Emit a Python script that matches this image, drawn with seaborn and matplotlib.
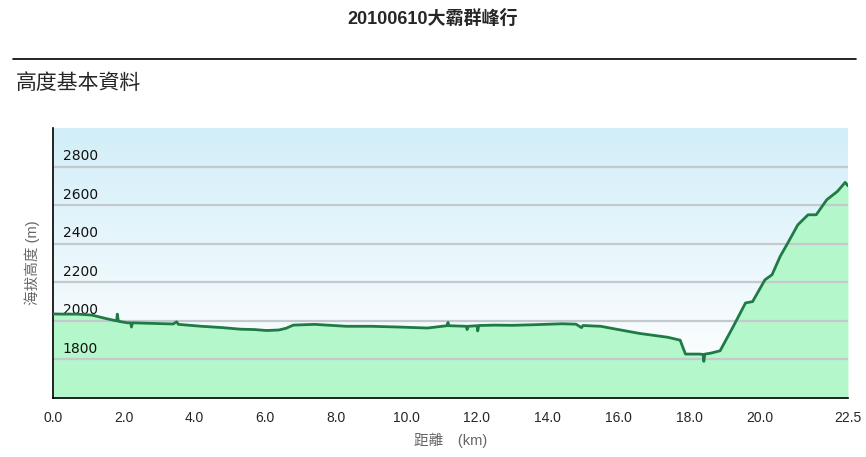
import numpy as np
import pandas as pd
import seaborn as sns
import matplotlib.pyplot as plt
from matplotlib.colors import LinearSegmentedColormap

# Datos del perfil (distancia en km, altura en m)
dist_km = [0.0, 0.3, 0.7, 1.1, 1.5, 1.8, 1.82, 1.85, 2.1, 2.2, 2.22, 2.25, 2.6, 3.0, 3.4,
           3.5, 3.55, 4.2, 4.8, 5.3, 5.7, 6.05, 6.4, 6.6, 6.8, 7.4, 8.3, 9.0, 9.8, 10.6,
           11.15, 11.18, 11.2, 11.7, 11.72, 11.75, 12.0, 12.02, 12.05, 12.5, 13.0, 13.6,
           14.4, 14.8, 14.96, 15.0, 15.5, 16.0, 16.6, 17.0, 17.4, 17.75, 17.9, 18.3, 18.4,
           18.42, 18.45, 18.6, 18.88, 19.25, 19.6, 19.8, 20.15, 20.35, 20.58, 20.8, 21.08,
           21.37, 21.6, 21.9, 22.2, 22.42, 22.5]
altura_m = [2036, 2035, 2035, 2030, 2012, 2000, 2035, 1998, 1990, 1990, 1968, 1990, 1988,
            1986, 1984, 1995, 1982, 1972, 1965, 1957, 1955, 1950, 1953, 1962, 1978, 1982,
            1972, 1972, 1968, 1963, 1975, 1992, 1975, 1972, 1955, 1972, 1975, 1948, 1976,
            1978, 1977, 1980, 1985, 1983, 1965, 1976, 1972, 1955, 1935, 1925, 1915, 1900,
            1828, 1828, 1826, 1790, 1828, 1832, 1845, 1970, 2093, 2100, 2213, 2239, 2334,
            2405, 2498, 2550, 2550, 2628, 2671, 2718, 2700]

y_ticks = [1800, 2000, 2200, 2400, 2600, 2800]
y_tick_labels = ['1800', '2000', '2200', '2400', '2600', '2800']
x_ticks = [0, 2, 4, 6, 8, 10, 12, 14, 16, 18, 20, 22.5]
x_tick_labels = ['0.0', '2.0', '4.0', '6.0', '8.0', '10.0', '12.0', '14.0', '16.0',
                 '18.0', '20.0', '22.5']

df = pd.DataFrame({'km': dist_km, 'alt': altura_m})

sns.set_style('white')
plt.rcParams['font.family'] = ['Liberation Sans', 'Noto Sans CJK TC', 'DejaVu Sans']

fig = plt.figure(figsize=(8.66, 4.57), dpi=100)
ax = fig.add_axes([0.0612, 0.129, 0.918, 0.591])

# Fondo degradado
grad = LinearSegmentedColormap.from_list('cielo', ['#ffffff', '#d2eef8'])
ax.imshow(np.linspace(0, 1, 256).reshape(-1, 1), cmap=grad, origin='lower',
          extent=[0, 22.5, 1700, 3000], aspect='auto', zorder=0)
ax.axhspan(1600, 1700, color='white', zorder=0)

ax.fill_between(df['km'], df['alt'], 1600, color='#b4f7cb', zorder=1, linewidth=0)
for yv in y_ticks:
    ax.axhline(yv, color='#c3c9cc', lw=1.6, zorder=2)
# etiquetas del eje y dentro del área, la línea pasa por encima
for yv, lab in zip(y_ticks, y_tick_labels):
    ax.text(0.27, yv + 18, lab, fontsize=10, family='DejaVu Sans', color='#111111',
            ha='left', va='bottom', zorder=2.5)
sns.lineplot(data=df, x='km', y='alt', color='#1f7a45', lw=2.0, ax=ax, zorder=3)

ax.set_xlim(0, 22.5)
ax.set_ylim(1600, 3000)
ax.set_xticks(x_ticks)
ax.set_xticklabels(x_tick_labels, fontsize=10)
ax.set_yticks([])

ax.tick_params(axis='x', direction='out', length=5, width=1, color='black', pad=4)
for s in ['top', 'right']:
    ax.spines[s].set_visible(False)
for s in ['left', 'bottom']:
    ax.spines[s].set_color('black')
    ax.spines[s].set_linewidth(1.2)

ax.set_xlabel('距離　(km)', fontsize=10.5, color='#666666', labelpad=6)
ax.set_ylabel('海拔高度 (m)', fontsize=10.5, color='#666666', labelpad=9)

fig.text(0.5, 0.958, '20100610大霸群峰行', ha='center', va='center', fontsize=13,
         fontweight='bold')
fig.add_artist(plt.Line2D([0.015, 0.988], [0.871, 0.871], color='black', lw=1.2))
fig.text(0.018, 0.818, '高度基本資料', ha='left', va='center', fontsize=15)

fig.savefig('out.png', dpi=100)
